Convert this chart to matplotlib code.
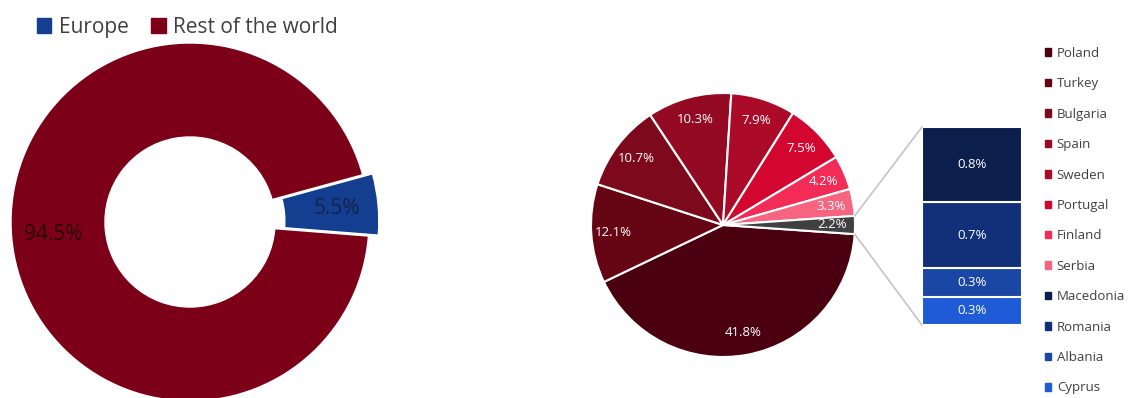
import matplotlib.pyplot as plt
import numpy as np
from matplotlib.patches import ConnectionPatch, Patch

plt.rcParams["font.family"] = ["Open Sans", "DejaVu Sans"]

# left donut
regions = ["Europe", "Rest of the world"]
region_share = [5.5, 94.5]
region_colors = ["#143f91", "#7d0019"]

# right pie
countries = ["Poland", "Turkey", "Bulgaria", "Spain", "Sweden", "Portugal", "Finland", "Serbia"]
country_share = [41.8, 12.1, 10.7, 10.3, 7.9, 7.5, 4.2, 3.3]
other_share = 2.2
country_colors = ["#4a000f", "#660614", "#7c0a1c", "#940a22", "#ab0a28", "#d2062e", "#f22b57", "#f7647f"]
other_color = "#404040"

# bar of the "other" slice, stacked bottom to top
small = ["Cyprus", "Albania", "Romania", "Macedonia"]
small_share = [0.3, 0.3, 0.7, 0.8]
small_colors = ["#1f5bd6", "#1a46a6", "#12307a", "#0c1e4b"]

W, H = 1130, 398
fig = plt.figure(figsize=(W / 100, H / 100), dpi=100)


def px_axes(cx, cy, half):
    return fig.add_axes([(cx - half) / W, (H - cy - half) / H, 2 * half / W, 2 * half / H])


# ---- donut
ax1 = px_axes(190, 222, 179 * 1.2)
wedges1, _, autot1 = ax1.pie(
    region_share, colors=region_colors, startangle=-4.5, explode=[0.055, 0],
    radius=1, autopct="%.1f%%", pctdistance=0.77,
    wedgeprops=dict(width=0.525, edgecolor="white", linewidth=1),
    textprops=dict(fontsize=15),
)
autot1[0].set_color("#14224a")
autot1[1].set_color("#2a0008")
ax1.set_xlim(-1.2, 1.2)
ax1.set_ylim(-1.2, 1.2)
ax1.set_axis_off()
fig.legend(
    handles=[Patch(color=c, label=l) for c, l in zip(region_colors, regions)],
    loc="upper left", bbox_to_anchor=(18 / W, 1.0 + 2 / H), ncol=2, frameon=False,
    fontsize=15, handlelength=0.7, handleheight=0.7, handletextpad=0.35,
    columnspacing=1.1, labelcolor="#404040",
)

# ---- pie
ax2 = px_axes(723, 225, 132 * 1.05)
vals = country_share + [other_share]
cols = country_colors + [other_color]
start = -other_share / 2 * 3.6
wedges2, _, autot2 = ax2.pie(
    vals, colors=cols, startangle=start, counterclock=False, radius=1,
    autopct="%.1f%%", pctdistance=0.83,
    wedgeprops=dict(edgecolor="white", linewidth=1.5),
    textprops=dict(fontsize=9.5, color="white"),
)
ax2.set_xlim(-1.05, 1.05)
ax2.set_ylim(-1.05, 1.05)
ax2.set_axis_off()

# ---- bar of pie
ax3 = fig.add_axes([922 / W, (H - 325) / H, 100 / W, 198 / H])
bottom = 0
for v, c in zip(small_share, small_colors):
    ax3.bar(0, v, bottom=bottom, width=1, color=c, edgecolor="white", linewidth=1.5)
    ax3.text(0, bottom + v / 2, f"{v:.1f}%", ha="center", va="center", color="white", fontsize=9.5)
    bottom += v
ax3.set_xlim(-0.5, 0.5)
ax3.set_ylim(0, bottom)
ax3.set_axis_off()

grey = wedges2[-1]
for ang, yb in [(grey.theta2, bottom), (grey.theta1, 0)]:
    a = np.deg2rad(ang)
    con = ConnectionPatch(
        xyA=(np.cos(a), np.sin(a)), coordsA=ax2.transData,
        xyB=(-0.5, yb), coordsB=ax3.transData,
        color="#c4c4c4", linewidth=1.2,
    )
    fig.add_artist(con)

handles = [Patch(color=c, label=l) for c, l in zip(country_colors, countries)]
handles += [Patch(color=c, label=l) for c, l in zip(small_colors[::-1], small[::-1])]
fig.legend(
    handles=handles, loc="upper left", bbox_to_anchor=(1033 / W, 1 - 35 / H),
    frameon=False, fontsize=9.5, handlelength=0.5, handleheight=0.5,
    handletextpad=0.4, labelspacing=1.32, labelcolor="#404040",
)

fig.savefig("out.png", dpi=100)
